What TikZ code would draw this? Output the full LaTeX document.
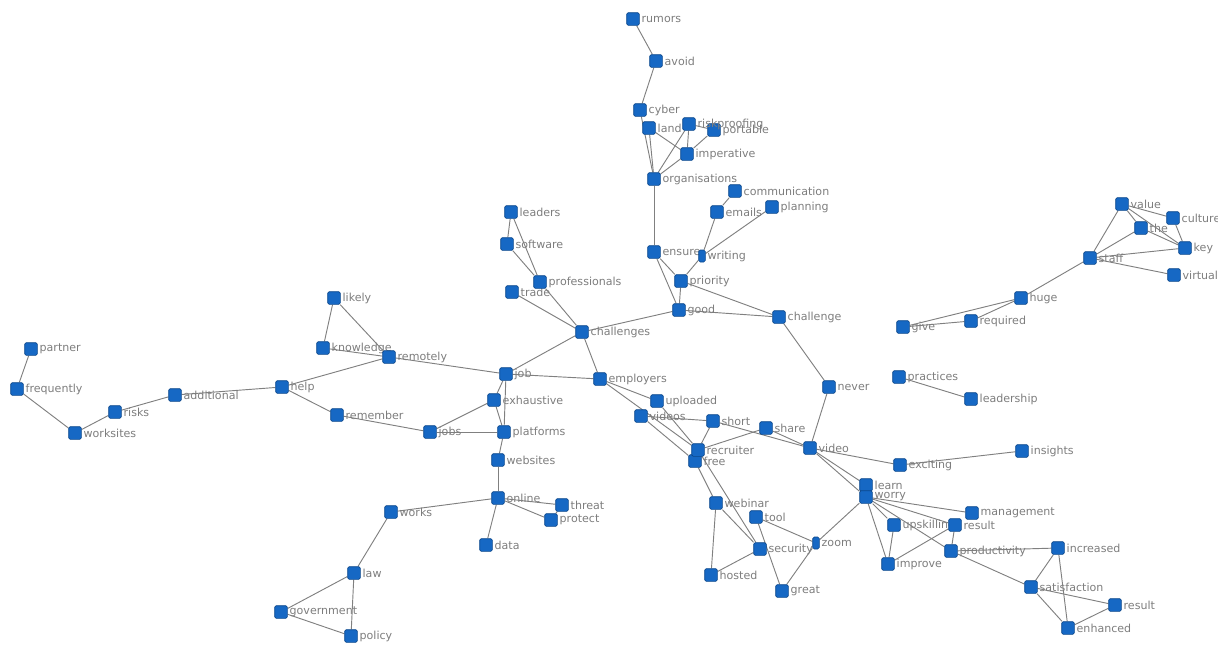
\documentclass[tikz,border=0pt]{standalone}
\usepackage{fontspec}
\setmainfont{DejaVu Sans}
\usetikzlibrary{backgrounds}
\definecolor{sqfill}{RGB}{22,104,196}
\definecolor{sqdraw}{RGB}{12,72,140}
\definecolor{lblc}{RGB}{125,125,125}
\definecolor{edgec}{RGB}{128,128,128}
\tikzset{
  sq/.style={rectangle,rounded corners=1.2pt,minimum size=9.5pt,inner sep=0pt,fill=sqfill,draw=sqdraw,line width=0.5pt},
  sqs/.style={sq,minimum width=5pt,minimum height=9pt},
  lbl/.style={text=lblc,font=\fontsize{8.3pt}{9pt}\selectfont,inner sep=0.5pt,label distance=0.8pt},
  edge/.style={draw=edgec,line width=0.7pt},
}
\newcommand{\wn}[4]{\node[sq,label={[lbl]right:#4}] (#1) at (#2,#3) {};}
\begin{document}
\begin{tikzpicture}[x=0.75pt,y=-0.75pt]
\useasboundingbox (0,0) rectangle (1218,646);
% top cluster
\wn{rumors}{633}{19}{rumors}
\wn{avoid}{656}{61}{avoid}
\wn{cyber}{640}{110}{cyber}
\wn{land}{649}{128}{land}
\wn{imperative}{687}{154}{imperative}
\wn{portable}{714}{130}{portable}
\wn{riskproofing}{689}{124}{riskproofing}
\wn{organisations}{654}{179}{organisations}
\wn{communication}{735}{191}{communication}
\wn{emails}{717}{212}{emails}
\wn{planning}{772}{207}{planning}
\wn{ensure}{654}{252}{ensure}
\node[sqs,label={[lbl]right:writing}] (writing) at (702,256) {};
\wn{priority}{681}{281}{priority}
\wn{good}{679}{310}{good}
\wn{challenge}{779}{317}{challenge}
% left-centre
\wn{leaders}{511}{212}{leaders}
\wn{software}{507}{244}{software}
\wn{trade}{512}{292}{trade}
\wn{professionals}{540}{282}{professionals}
\wn{challenges}{582}{332}{challenges}
\wn{job}{506}{374}{job}
\wn{employers}{600}{379}{employers}
\wn{likely}{334}{298}{likely}
\wn{knowledge}{323}{348}{knowledge}
\wn{remotely}{389}{357}{remotely}
\wn{help}{282}{387}{help}
\wn{additional}{175}{395}{additional}
\wn{risks}{115}{412}{risks}
\wn{worksites}{75}{433}{worksites}
\wn{frequently}{17}{389}{frequently}
\wn{partner}{31}{349}{partner}
\wn{remember}{337}{415}{remember}
\wn{jobs}{430}{432}{jobs}
\wn{exhaustive}{494}{400}{exhaustive}
\wn{platforms}{504}{432}{platforms}
\wn{websites}{498}{460}{websites}
\wn{online}{498}{498}{online}
\wn{threat}{562}{505}{threat}
\wn{protect}{551}{520}{protect}
\wn{data}{486}{545}{data}
\wn{works}{391}{512}{works}
\wn{law}{354}{573}{law}
\wn{government}{281}{612}{government}
\wn{policy}{351}{636}{policy}
% centre-bottom
\wn{uploaded}{657}{401}{uploaded}
\wn{videos}{641}{416}{videos}
\wn{short}{713}{421}{short}
\wn{share}{766}{428}{share}
\wn{free}{695}{461}{free}
\wn{recruiter}{698}{450}{recruiter}
\wn{video}{810}{448}{video}
\wn{never}{829}{387}{never}
\wn{webinar}{716}{503}{webinar}
\wn{tool}{756}{517}{tool}
\wn{security}{760}{549}{security}
\node[sqs,label={[lbl]right:zoom}] (zoom) at (816,543) {};
\wn{hosted}{711}{575}{hosted}
\wn{great}{782}{591}{great}
% right-bottom
\wn{practices}{899}{377}{practices}
\wn{leadership}{971}{399}{leadership}
\wn{insights}{1022}{451}{insights}
\wn{exciting}{900}{465}{exciting}
\wn{learn}{866}{485}{learn}
\wn{worry}{866}{497}{worry}
\wn{management}{972}{513}{management}
\wn{upskilling}{894}{525}{upskilling}
\wn{resulta}{955}{525}{result}
\wn{productivity}{951}{551}{productivity}
\wn{improve}{888}{564}{improve}
\wn{increased}{1058}{548}{increased}
\wn{satisfaction}{1031}{587}{satisfaction}
\wn{resultb}{1115}{605}{result}
\wn{enhanced}{1068}{628}{enhanced}
% right-top
\wn{value}{1122}{204}{value}
\wn{the}{1141}{228}{the}
\wn{culture}{1173}{218}{culture}
\wn{key}{1185}{248}{key}
\wn{staff}{1090}{258}{staff}
\wn{virtual}{1174}{275}{virtual}
\wn{huge}{1021}{298}{huge}
\wn{required}{971}{321}{required}
\wn{give}{903}{327}{give}
\begin{scope}[on background layer]
\foreach \a/\b in {rumors/avoid,avoid/cyber,cyber/organisations,land/organisations,land/imperative,
  riskproofing/imperative,riskproofing/organisations,portable/imperative,imperative/organisations,
  riskproofing/portable,organisations/ensure,communication/emails,emails/writing,planning/writing,
  writing/priority,ensure/priority,ensure/good,priority/good,priority/challenge,good/challenge,
  good/challenges,challenge/never,never/video,challenges/professionals,challenges/trade,
  challenges/job,challenges/employers,leaders/software,leaders/professionals,software/professionals,
  job/remotely,job/employers,job/exhaustive,job/platforms,remotely/knowledge,remotely/likely,
  likely/knowledge,remotely/help,help/additional,help/remember,additional/risks,risks/worksites,
  worksites/frequently,frequently/partner,remember/jobs,jobs/exhaustive,jobs/platforms,
  exhaustive/platforms,platforms/websites,websites/online,online/works,online/data,online/threat,
  online/protect,threat/protect,works/law,law/government,law/policy,government/policy,
  employers/uploaded,employers/recruiter,videos/short,videos/free,uploaded/recruiter,
  short/recruiter,short/video,share/recruiter,share/video,free/webinar,recruiter/security,
  webinar/hosted,webinar/security,tool/great,tool/zoom,security/hosted,zoom/great,zoom/worry,
  video/learn,video/worry,video/exciting,exciting/insights,worry/management,worry/upskilling,
  worry/improve,worry/resulta,worry/productivity,upskilling/improve,resulta/productivity,
  resulta/improve,productivity/increased,productivity/satisfaction,increased/satisfaction,
  satisfaction/resultb,satisfaction/enhanced,increased/enhanced,resultb/enhanced,
  practices/leadership,give/huge,give/required,required/huge,huge/staff,staff/value,staff/the,
  staff/key,staff/virtual,value/the,value/key,the/key,culture/key,value/culture}
  \draw[edge] (\a) -- (\b);
\end{scope}
\end{tikzpicture}
\end{document}
